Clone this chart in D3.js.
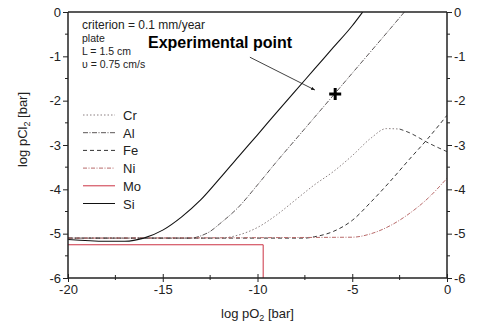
<!DOCTYPE html>
<html>
<head>
<meta charset="utf-8">
<script src="https://cdn.jsdelivr.net/npm/d3@7"></script>
<style>
  body { margin: 0; background: #fff; }
  svg { font-family: "Liberation Sans", Arial, sans-serif; }
</style>
</head>
<body>
<div class="chart"></div>
<script>
// data: [log pO2, log pCl2]
const cr = [[-20, -5.1], [-12, -5.1], [-11, -5.03], [-10, -4.86], [-9, -4.58], [-8, -4.24], [-7, -3.9], [-6, -3.6], [-5, -3.24], [-4, -2.84], [-3.2, -2.63], [-2.5, -2.64]];
const crTail = [[-2.5, -2.64], [-2, -2.72], [-1, -2.95], [0, -3.15]];
const al = [[-20, -5.1], [-13.5, -5.1], [-13, -5.05], [-12.5, -4.95], [-12, -4.78], [-11, -4.4], [-10, -3.9], [-9, -3.38], [-8, -2.88], [-7, -2.38], [-6, -1.88], [-5, -1.38], [-4, -0.88], [-3, -0.38], [-2.25, 0]];
const fe = [[-20, -5.1], [-7.5, -5.1], [-7, -5.07], [-6, -4.95], [-5, -4.7], [-4, -4.28], [-3, -3.82], [-2, -3.33], [-1, -2.85], [0, -2.33]];
const ni = [[-20, -5.1], [-5, -5.08], [-4, -5.0], [-3, -4.82], [-2, -4.55], [-1, -4.2], [0, -3.75]];
const mo = [[-20, -5.25], [-9.7, -5.25], [-9.7, -6.3]];
const si = [[-20, -5.13], [-18, -5.17], [-17, -5.17], [-16, -5.1], [-15, -4.92], [-14, -4.62], [-13, -4.24], [-12, -3.76], [-11, -3.26], [-10, -2.77], [-9, -2.27], [-8, -1.78], [-7, -1.29], [-6, -0.8], [-5, -0.31], [-4.45, 0]];

const expPoint = [-5.9, -1.85];
const arrowFrom = [-10.4, -1.02];
const arrowTo = [-6.97, -1.76];

const xTicks = [-20, -15, -10, -5, 0];
const yTicks = [0, -1, -2, -3, -4, -5, -6];
const notes = ['criterion = 0.1 mm/year', 'plate', 'L = 1.5 cm', 'υ = 0.75 cm/s'];

const width = 480;
const height = 324;
const margin = { top: 12, right: 33, bottom: 46, left: 68 };

const svg = d3.select('.chart').append('svg')
  .attr('width', width)
  .attr('height', height);

const x = d3.scaleLinear().domain([-20, 0]).range([margin.left, width - margin.right]);
const y = d3.scaleLinear().domain([0, -6]).range([margin.top, height - margin.bottom]);

svg.append('clipPath').attr('id', 'plot-clip')
  .append('rect')
  .attr('x', x(-20)).attr('y', y(0))
  .attr('width', x(0) - x(-20)).attr('height', y(-6) - y(0));

const smooth = d3.line().curve(d3.curveMonotoneX).x(d => x(d[0])).y(d => y(d[1]));
const straight = d3.line().x(d => x(d[0])).y(d => y(d[1]));

const series = [
  { name: 'Cr', data: cr, color: '#8a7f80', dash: '1.5,2', w: 1 },
  { name: 'Al', data: al, color: '#5a5556', dash: '5,1.5,1,1.5', w: 1 },
  { name: 'Fe', data: fe, color: '#333', dash: '4,3', w: 1 },
  { name: 'Ni', data: ni, color: '#b86a6a', dash: '4,1.5,1,1.5', w: 1 },
  { name: 'Mo', data: mo, color: '#cc3344', dash: null, w: 1, step: true },
  { name: 'Si', data: si, color: '#111', dash: null, w: 1.1 },
];

const g = svg.append('g').attr('clip-path', 'url(#plot-clip)');

g.selectAll('.curve')
  .data(series)
  .enter()
  .append('path')
  .attr('class', 'curve')
  .attr('d', d => (d.step ? straight(d.data) : smooth(d.data)))
  .attr('fill', 'none')
  .attr('stroke', d => d.color)
  .attr('stroke-width', d => d.w)
  .attr('stroke-dasharray', d => d.dash);

g.append('path')
  .attr('d', smooth(crTail))
  .attr('fill', 'none')
  .attr('stroke', '#444')
  .attr('stroke-width', 1)
  .attr('stroke-dasharray', '4,3');

// axes
const axisColor = '#222';
const fmt = d => String(d);

svg.append('line')
  .attr('x1', x(-20)).attr('x2', x(0)).attr('y1', y(0)).attr('y2', y(0))
  .attr('stroke', axisColor).attr('stroke-width', 1.5);

const left = svg.append('g')
  .attr('transform', `translate(${x(-20)},0)`)
  .call(d3.axisLeft(y).tickValues(yTicks).tickSize(5).tickPadding(2).tickFormat(fmt));
left.append('g').selectAll('line')
  .data(d3.range(-5.5, 0, 1))
  .enter().append('line')
  .attr('x1', 0).attr('x2', -3)
  .attr('y1', d => y(d)).attr('y2', d => y(d));

const right = svg.append('g')
  .attr('transform', `translate(${x(0)},0)`)
  .call(d3.axisRight(y).tickValues(yTicks).tickSize(5).tickPadding(2).tickFormat(fmt));
right.append('g').selectAll('line')
  .data(d3.range(-5.5, 0, 1))
  .enter().append('line')
  .attr('x1', 0).attr('x2', 3)
  .attr('y1', d => y(d)).attr('y2', d => y(d));

const bottom = svg.append('g')
  .attr('transform', `translate(0,${y(-6)})`)
  .call(d3.axisBottom(x).tickValues(xTicks).tickSize(4).tickPadding(3).tickFormat(fmt));
bottom.selectAll('.tick line').attr('y1', -4);
bottom.append('g').selectAll('line')
  .data(d3.range(-17.5, 0, 5))
  .enter().append('line')
  .attr('x1', d => x(d)).attr('x2', d => x(d))
  .attr('y1', -3).attr('y2', 2);

[left, right, bottom].forEach(a => {
  a.select('.domain').attr('stroke', axisColor).attr('stroke-width', 1.5);
  a.selectAll('line').attr('stroke', axisColor);
  a.selectAll('text').attr('font-size', 13).attr('fill', '#222')
    .attr('font-family', '"Liberation Sans", Arial, sans-serif');
});
left.select('.domain').attr('d', `M0,${y(0)}V${y(-6)}`);
right.select('.domain').attr('d', `M0,${y(0)}V${y(-6)}`);
bottom.select('.domain').attr('d', `M${x(-20)},0H${x(0)}`);

// axis titles
const yt = svg.append('text')
  .attr('transform', `translate(27,${y(-2.65)}) rotate(-90)`)
  .attr('text-anchor', 'middle')
  .attr('font-size', 13)
  .attr('fill', '#222');
yt.append('tspan').text('log pCl');
yt.append('tspan').attr('font-size', 9).attr('dy', 3).text('2');
yt.append('tspan').attr('dy', -3).text(' [bar]');

const xt = svg.append('text')
  .attr('x', x(-10))
  .attr('y', 318)
  .attr('text-anchor', 'middle')
  .attr('font-size', 13)
  .attr('fill', '#222');
xt.append('tspan').text('log pO');
xt.append('tspan').attr('font-size', 9).attr('dy', 3).text('2');
xt.append('tspan').attr('dy', -3).text(' [bar]');

// notes
svg.selectAll('.note')
  .data(notes)
  .enter()
  .append('text')
  .attr('class', 'note')
  .attr('x', 82)
  .attr('y', (d, i) => (i === 0 ? 29 : 29 + i * 13))
  .attr('font-size', (d, i) => (i === 0 ? 12 : 10.5))
  .attr('fill', '#222')
  .text(d => d);

// legend
const leg = svg.append('g').attr('transform', 'translate(83,115)');
const items = leg.selectAll('.item')
  .data(series)
  .enter()
  .append('g')
  .attr('class', 'item')
  .attr('transform', (d, i) => `translate(0,${i * 17.7})`);
items.append('line')
  .attr('x1', 0).attr('x2', 32)
  .attr('stroke', d => d.color)
  .attr('stroke-width', 1)
  .attr('stroke-dasharray', d => d.dash);
items.append('text')
  .attr('x', 40).attr('y', 5)
  .attr('font-size', 13)
  .attr('fill', '#222')
  .text(d => d.name);

// experimental point annotation
svg.append('defs').append('marker')
  .attr('id', 'arrow')
  .attr('viewBox', '0 0 10 10')
  .attr('refX', 10).attr('refY', 5)
  .attr('markerWidth', 5).attr('markerHeight', 5)
  .attr('orient', 'auto')
  .append('path').attr('d', 'M0,1L10,5L0,9z').attr('fill', '#111');

svg.append('text')
  .attr('x', 148).attr('y', 48)
  .attr('font-size', 16)
  .attr('font-weight', 'bold')
  .attr('fill', '#000')
  .text('Experimental point');

svg.append('line')
  .attr('x1', x(arrowFrom[0])).attr('y1', y(arrowFrom[1]))
  .attr('x2', x(arrowTo[0])).attr('y2', y(arrowTo[1]))
  .attr('stroke', '#111').attr('stroke-width', 0.8)
  .attr('marker-end', 'url(#arrow)');

const cx = x(expPoint[0]), cy = y(expPoint[1]);
svg.append('g').attr('transform', `translate(${cx},${cy})`)
  .selectAll('line')
  .data([[-6, 0, 6, 0], [0, -6, 0, 6]])
  .enter().append('line')
  .attr('x1', d => d[0]).attr('y1', d => d[1])
  .attr('x2', d => d[2]).attr('y2', d => d[3])
  .attr('stroke', '#000').attr('stroke-width', 3);
</script>
</body>
</html>
